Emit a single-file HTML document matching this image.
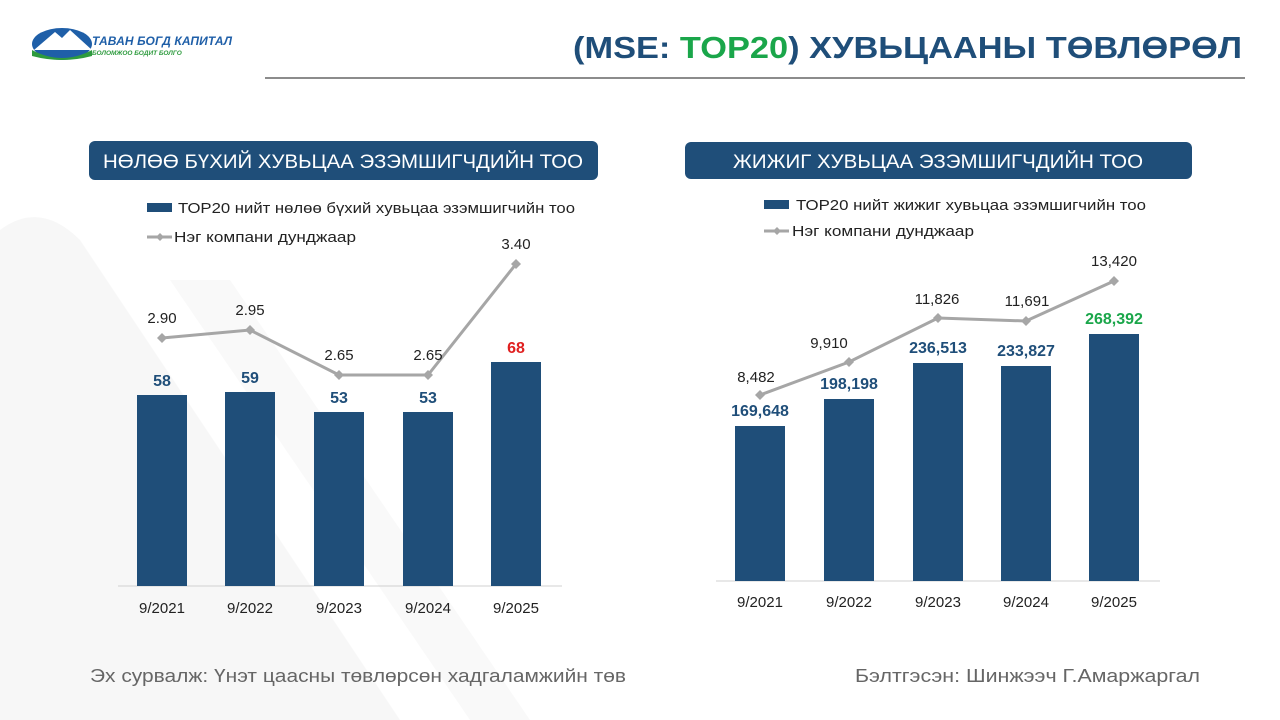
<!DOCTYPE html>
<html><head><meta charset="utf-8"><style>
body{margin:0;width:1280px;height:720px;background:#fff;font-family:"Liberation Sans","DejaVu Sans",sans-serif;overflow:hidden;position:relative}
</style></head><body>
<svg width="1280" height="720" xmlns="http://www.w3.org/2000/svg" style="position:absolute;left:0;top:0">
<path d="M0 230 Q40 200 80 240 L400 720 L0 720Z" fill="#f7f7f7"/>
<path d="M170 280 L230 280 L530 720 L470 720Z" fill="#f9f9f9"/>
<!-- logo -->
<ellipse cx="62" cy="44" rx="30" ry="16" fill="#1f5fa8"/>
<path d="M34 50 L55 32 L62 38 L70 30 L92 50Z" fill="#fff"/>
<path d="M32 50 Q62 66 92 50 L92 56 Q62 64 32 56Z" fill="#2e9b3e"/>
<text x="92" y="45" font-size="12" font-weight="bold" font-style="italic" fill="#1f5fa8" textLength="140">ТАВАН БОГД КАПИТАЛ</text>
<text x="92" y="55" font-size="6.5" font-weight="bold" font-style="italic" fill="#2e9b3e">БОЛОМЖОО БОДИТ БОЛГО</text>
<text x="573" y="58" font-size="31" font-weight="bold" fill="#1f4e79" textLength="669" lengthAdjust="spacingAndGlyphs">(MSE: <tspan fill="#1aa64a">TOP20</tspan>) ХУВЬЦААНЫ ТӨВЛӨРӨЛ</text>
<line x1="265" y1="78" x2="1245" y2="78" stroke="#666" stroke-width="1.5"/>
<rect x="89" y="141" width="509" height="39" rx="6" fill="#1f4e79"/>
<text x="103" y="168" font-size="19" fill="#fff" textLength="480" lengthAdjust="spacingAndGlyphs">НӨЛӨӨ БҮХИЙ ХУВЬЦАА ЭЗЭМШИГЧДИЙН ТОО</text>
<rect x="685" y="142" width="507" height="37" rx="6" fill="#1f4e79"/>
<text x="733" y="168" font-size="19" fill="#fff" textLength="410" lengthAdjust="spacingAndGlyphs">ЖИЖИГ ХУВЬЦАА ЭЗЭМШИГЧДИЙН ТОО</text>
<g font-size="15" fill="#222">
<rect x="147" y="203" width="25" height="9" fill="#1f4e79"/>
<text x="178" y="213" textLength="397" lengthAdjust="spacingAndGlyphs">ТОР20 нийт нөлөө бүхий хувьцаа эзэмшигчийн тоо</text>
<line x1="147" y1="237" x2="172" y2="237" stroke="#a6a6a6" stroke-width="3"/><path d="M160 233l4 4-4 4-4-4z" fill="#a6a6a6"/>
<text x="174" y="242" textLength="182" lengthAdjust="spacingAndGlyphs">Нэг компани дунджаар</text>
<rect x="764" y="200" width="25" height="9" fill="#1f4e79"/>
<text x="796" y="210" textLength="350" lengthAdjust="spacingAndGlyphs">ТОР20 нийт жижиг хувьцаа эзэмшигчийн тоо</text>
<line x1="764" y1="231" x2="789" y2="231" stroke="#a6a6a6" stroke-width="3"/><path d="M777 227l4 4-4 4-4-4z" fill="#a6a6a6"/>
<text x="792" y="236" textLength="182" lengthAdjust="spacingAndGlyphs">Нэг компани дунджаар</text>
</g>
<!-- left chart -->
<line x1="118" y1="586" x2="562" y2="586" stroke="#d0d0d0"/>
<g fill="#1f4e79">
<rect x="137" y="395" width="50" height="191"/><rect x="225" y="392" width="50" height="194"/><rect x="314" y="412" width="50" height="174"/><rect x="403" y="412" width="50" height="174"/><rect x="491" y="362" width="50" height="224"/>
</g>
<g font-size="16" font-weight="bold" fill="#1f4e79" text-anchor="middle">
<text x="162" y="386">58</text><text x="250" y="383">59</text><text x="339" y="403">53</text><text x="428" y="403">53</text><text x="516" y="353" fill="#e02020">68</text>
</g>
<polyline points="162,338 250,330 339,375 428,375 516,264" fill="none" stroke="#a6a6a6" stroke-width="3"/>
<g fill="#a6a6a6"><path d="M162 333l5 5-5 5-5-5z"/><path d="M250 325l5 5-5 5-5-5z"/><path d="M339 370l5 5-5 5-5-5z"/><path d="M428 370l5 5-5 5-5-5z"/><path d="M516 259l5 5-5 5-5-5z"/></g>
<g font-size="15" fill="#222" text-anchor="middle">
<text x="162" y="323">2.90</text><text x="250" y="315">2.95</text><text x="339" y="360">2.65</text><text x="428" y="360">2.65</text><text x="516" y="249">3.40</text>
<text x="162" y="613">9/2021</text><text x="250" y="613">9/2022</text><text x="339" y="613">9/2023</text><text x="428" y="613">9/2024</text><text x="516" y="613">9/2025</text>
</g>
<!-- right chart -->
<line x1="716" y1="581" x2="1160" y2="581" stroke="#d0d0d0"/>
<g fill="#1f4e79">
<rect x="735" y="426" width="50" height="155"/><rect x="824" y="399" width="50" height="182"/><rect x="913" y="363" width="50" height="218"/><rect x="1001" y="366" width="50" height="215"/><rect x="1089" y="334" width="50" height="247"/>
</g>
<g font-size="16" font-weight="bold" fill="#1f4e79" text-anchor="middle">
<text x="760" y="416">169,648</text><text x="849" y="389">198,198</text><text x="938" y="353">236,513</text><text x="1026" y="356">233,827</text><text x="1114" y="324" fill="#1aa64a">268,392</text>
</g>
<polyline points="760,395 849,362 938,318 1026,321 1114,281" fill="none" stroke="#a6a6a6" stroke-width="3"/>
<g fill="#a6a6a6"><path d="M760 390l5 5-5 5-5-5z"/><path d="M849 357l5 5-5 5-5-5z"/><path d="M938 313l5 5-5 5-5-5z"/><path d="M1026 316l5 5-5 5-5-5z"/><path d="M1114 276l5 5-5 5-5-5z"/></g>
<g font-size="15" fill="#222" text-anchor="middle">
<text x="756" y="382">8,482</text><text x="829" y="348">9,910</text><text x="937" y="304">11,826</text><text x="1027" y="306">11,691</text><text x="1114" y="266">13,420</text>
<text x="760" y="607">9/2021</text><text x="849" y="607">9/2022</text><text x="938" y="607">9/2023</text><text x="1026" y="607">9/2024</text><text x="1114" y="607">9/2025</text>
</g>
<text x="90" y="682" font-size="18" fill="#666" textLength="536" lengthAdjust="spacingAndGlyphs">Эх сурвалж: Үнэт цаасны төвлөрсөн хадгаламжийн төв</text>
<text x="855" y="682" font-size="18" fill="#666" textLength="345" lengthAdjust="spacingAndGlyphs">Бэлтгэсэн: Шинжээч Г.Амаржаргал</text>
</svg>
</body></html>
